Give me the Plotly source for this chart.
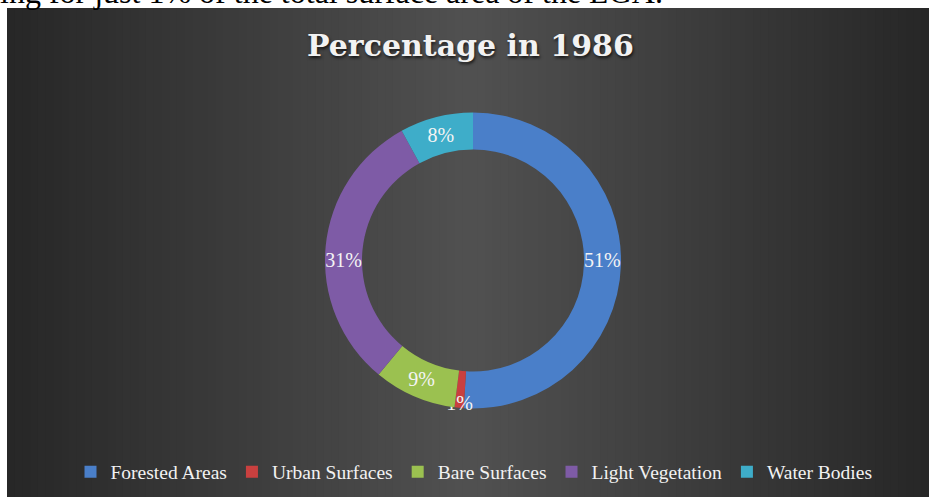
import plotly.graph_objects as go

# Land-cover shares for 1986 (percent of total surface area)
categories = ["Forested Areas", "Urban Surfaces", "Bare Surfaces", "Light Vegetation", "Water Bodies"]
shares_1986 = [51, 1, 9, 31, 8]
slice_colors = ["#4a7fc9", "#c9403f", "#9bc150", "#7e5ba6", "#3eadc9"]

W, H = 929, 497
PANEL_X0, PANEL_Y0 = 7, 8  # dark chart panel starts here (px)

fig = go.Figure()

fig.add_trace(go.Pie(
    labels=categories,
    values=shares_1986,
    hole=0.75,
    sort=False,
    direction="clockwise",
    rotation=0,
    marker=dict(colors=slice_colors, line=dict(width=0)),
    texttemplate="%{percent:.0%}",
    textposition="inside",
    insidetextorientation="horizontal",
    textfont=dict(family="Liberation Serif", size=20, color="#f4f4f4"),
    domain=dict(x=[0.3, 0.7183], y=[0.1781, 0.7737]),
    hoverinfo="label+percent",
))

# Horizontal gradient behind the chart: darker at both sides, lighter in the middle.
# Each band reaches to the centre line so later (lighter) bands overlap earlier ones
# and no seams show between them.
def grey(v):
    return f"rgb({v},{v},{v})"

cx = 470.0
top = 1 - PANEL_Y0 / H
shapes = [dict(type="rect", xref="paper", yref="paper",
               x0=PANEL_X0 / W, x1=1, y0=0, y1=top,
               fillcolor=grey(0x27), line=dict(width=0), layer="below")]
n_bands = 60
for i in range(n_bands):
    t = i / n_bands  # 0 at the outer edge, towards 1 at the centre
    v = int(round(0x27 + (0x51 - 0x27) * t))
    left_edge = PANEL_X0 + (cx - PANEL_X0) * t
    right_edge = W - (W - cx) * t
    shapes.append(dict(type="rect", xref="paper", yref="paper",
                       x0=left_edge / W, x1=(cx + 1) / W, y0=0, y1=top,
                       fillcolor=grey(v), line=dict(width=0), layer="below"))
    shapes.append(dict(type="rect", xref="paper", yref="paper",
                       x0=(cx - 1) / W, x1=right_edge / W, y0=0, y1=top,
                       fillcolor=grey(v), line=dict(width=0), layer="below"))

annotations = [
    # end of the preceding document sentence, cut off by the top edge
    dict(text="ing for just 1% of the total surface area of the LGA.",
         x=-2 / W, y=1 - 12 / H, xref="paper", yref="paper",
         xanchor="left", yanchor="bottom", showarrow=False,
         font=dict(family="Liberation Serif", size=32, color="#000000")),
    dict(text="Percentage in 1986",
         x=470 / W, y=1 - 46 / H, xref="paper", yref="paper",
         xanchor="center", yanchor="middle", showarrow=False,
         font=dict(family="DejaVu Serif", size=30, color="#f2f2f2", weight="bold",
                   shadow="1px 2px 3px rgba(0,0,0,0.7)")),
]

fig.update_layout(
    width=W, height=H,
    margin=dict(l=0, r=0, t=0, b=0),
    paper_bgcolor="#ffffff",
    plot_bgcolor="rgba(0,0,0,0)",
    shapes=shapes,
    annotations=annotations,
    uniformtext=dict(minsize=20, mode="show"),
    showlegend=True,
    legend=dict(
        orientation="h",
        x=474 / W, xanchor="center",
        y=1 - 472 / H, yanchor="middle",
        bgcolor="rgba(0,0,0,0)",
        font=dict(family="Liberation Serif", size=19.5, color="#f2f2f2"),
        traceorder="normal",
    ),
)

fig.write_html("out.html")
